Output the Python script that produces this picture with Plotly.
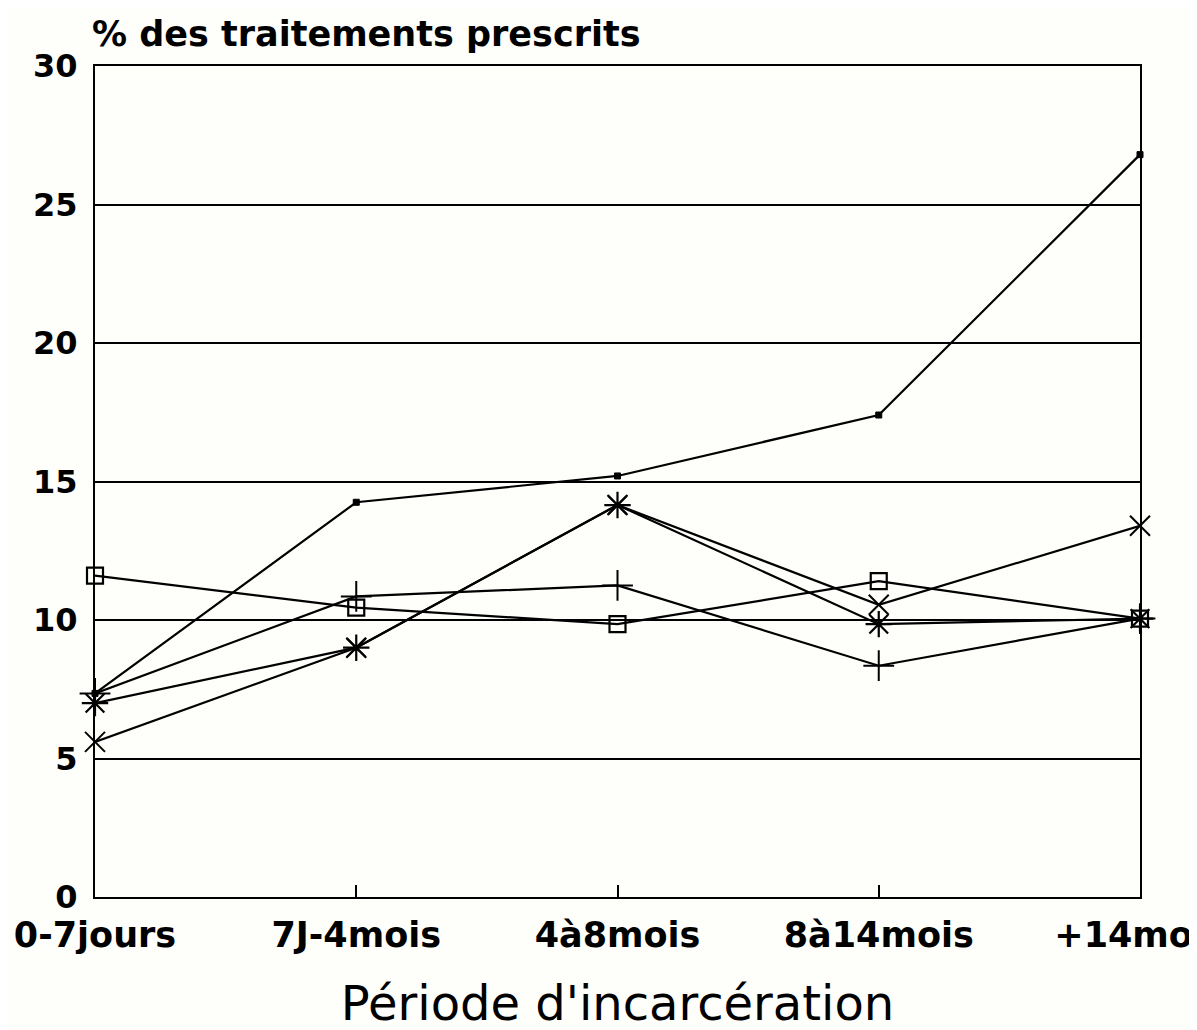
import plotly.graph_objects as go

periods = ["0-7jours", "7J-4mois", "4à8mois", "8à14mois", "+14mois"]
serie_point = [7.35, 14.25, 15.2, 17.4, 26.8]
serie_carre = [11.6, 10.45, 9.85, 11.4, 10.05]
serie_plus = [7.35, 10.85, 11.25, 8.35, 10.05]
serie_etoile = [7.0, 9.0, 14.15, 9.85, 10.05]
serie_croix = [5.6, 9.0, 14.15, 10.55, 13.4]
y_ticks = [0, 5, 10, 15, 20, 25, 30]

fig = go.Figure()

def add(vals, symbol, size, lw=2):
    fig.add_trace(go.Scatter(
        x=periods, y=vals, mode="lines+markers",
        line=dict(color="black", width=2.2),
        marker=dict(symbol=symbol, size=size, color="black",
                    line=dict(color="black", width=lw)),
        showlegend=False, cliponaxis=False))

add(serie_carre, "square-open", 16, 2.2)
add(serie_plus, "cross-thin-open", 22, 2)
add(serie_etoile, "asterisk-open", 22, 2.2)
add(serie_croix, "x-thin-open", 20, 2)
add(serie_point, "square", 6, 1)

fig.update_layout(
    width=1197, height=1030,
    margin=dict(l=87, r=65, t=58, b=141, autoexpand=False),
    paper_bgcolor="#fefefb", plot_bgcolor="#fefefb",
    font=dict(family="DejaVu Sans", color="black"),
    title=dict(text="<b>% des traitements prescrits</b>", x=84/1197, xanchor="left",
               y=1 - 26/1030, yanchor="middle", font=dict(size=35, color="black")),
)
fig.update_xaxes(
    type="category", categoryorder="array", categoryarray=periods,
    range=[0, 4], showline=True, mirror=True, linecolor="black", linewidth=2,
    showgrid=False, ticks="inside", ticklen=12, tickcolor="black", tickwidth=1.5,
    tickfont=dict(size=35, family="DejaVu Sans", weight="bold"),
    ticklabelstandoff=6, automargin=False,
    title=dict(text="Période d'incarcération", font=dict(size=48), standoff=32),
)
fig.update_yaxes(
    range=[0, 30], tickvals=y_ticks, ticktext=[str(v) for v in y_ticks],
    showline=True, mirror=True, linecolor="black", linewidth=2,
    showgrid=True, gridcolor="black", gridwidth=1.5, zeroline=False,
    ticks="", tickfont=dict(size=32, family="DejaVu Sans", weight="bold"),
    ticklabelstandoff=9, automargin=False,
)

fig.write_html("out.html")
